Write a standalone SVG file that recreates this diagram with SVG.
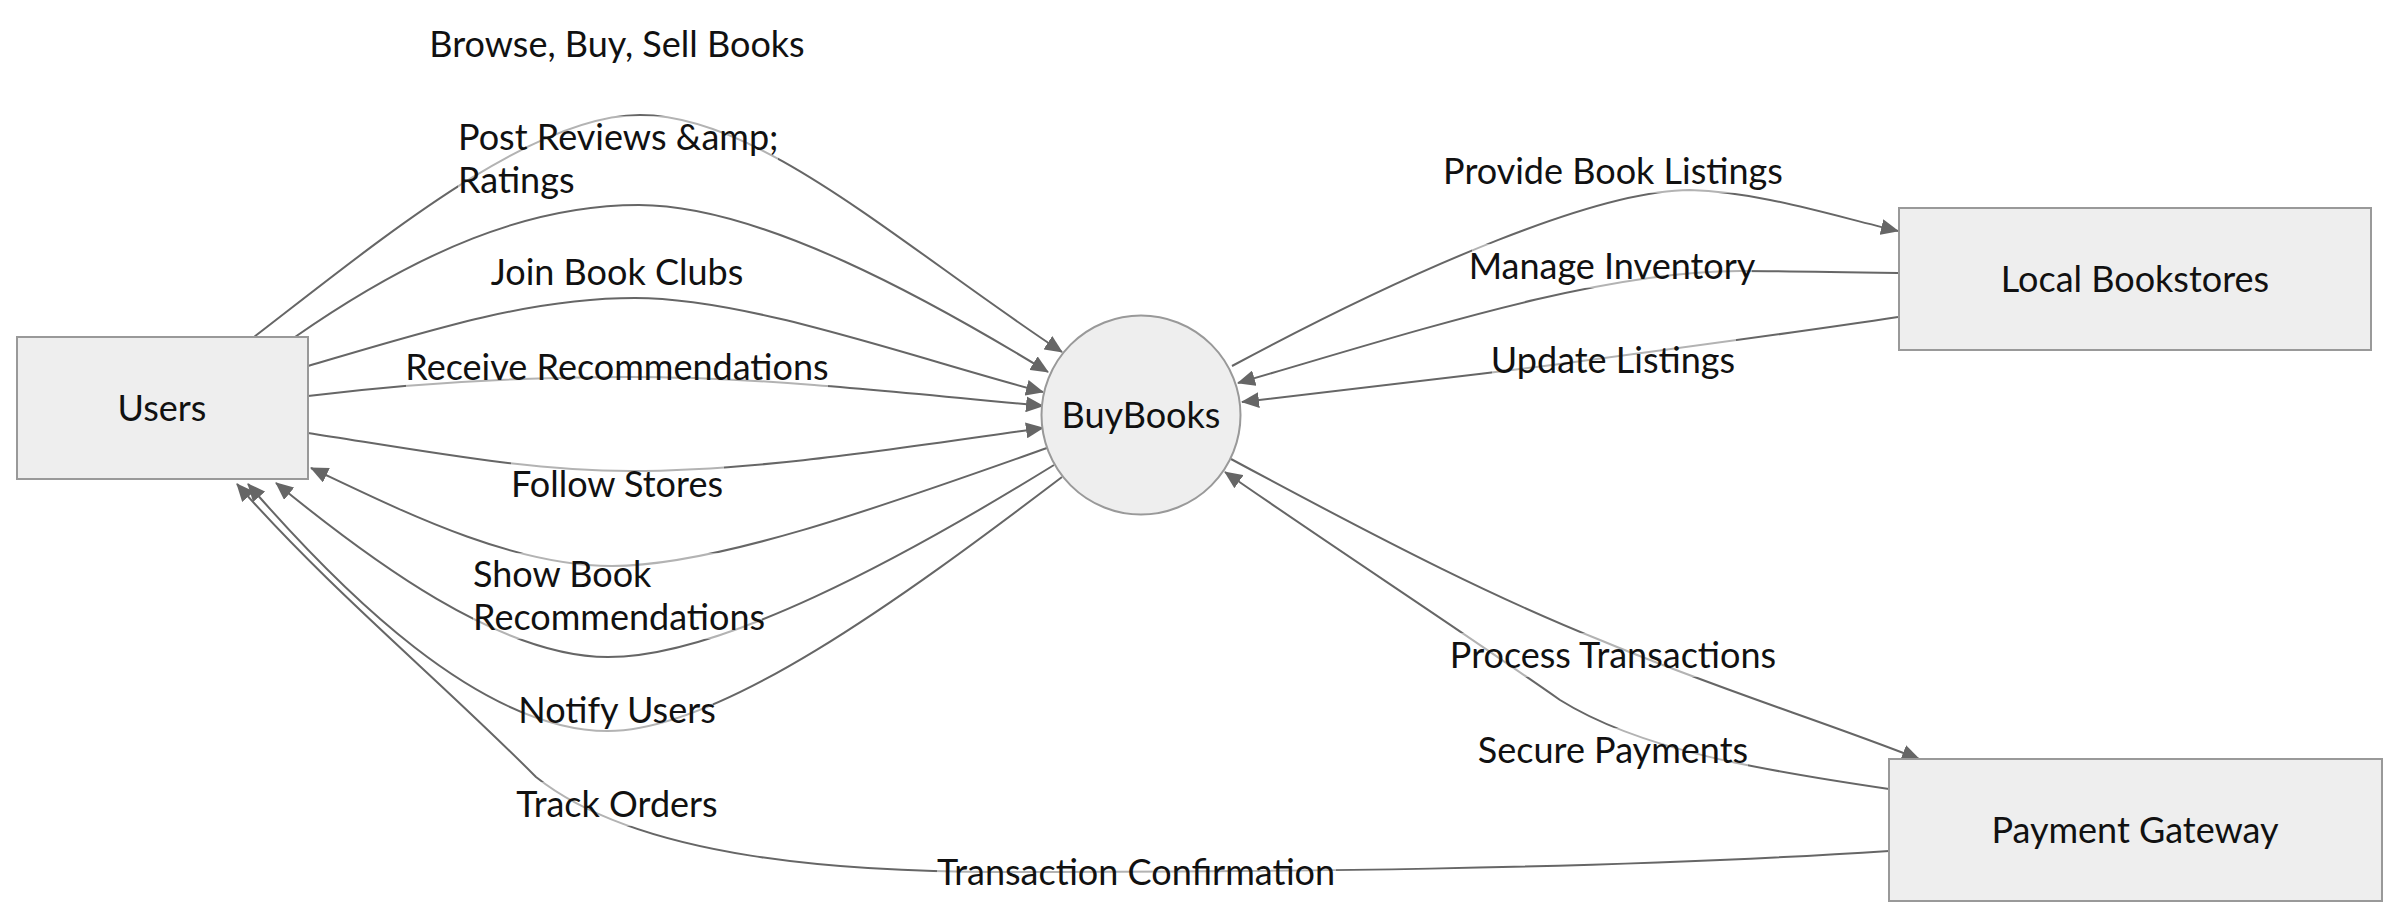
<svg xmlns="http://www.w3.org/2000/svg" width="2400" height="920" viewBox="0 0 2400 920">
<defs>
<marker id="arr" viewBox="0 0 18 16" markerWidth="18" markerHeight="16" refX="17" refY="8" orient="auto" markerUnits="userSpaceOnUse"><path d="M0,0 L18,8 L0,16 z" fill="#666666"/></marker>
</defs>
<style>
.node rect, .node circle {fill:#eeeeee; stroke:#999999; stroke-width:2;}
.edge {fill:none; stroke:#666666; stroke-width:2; marker-end:url(#arr);}
text {font-family: Lato, "Open Sans", sans-serif; font-size:36px; fill:#111111;}
.c {text-anchor:middle;}
.lbl rect {fill:#ffffff; fill-opacity:0.5;}
</style>
<rect width="2400" height="920" fill="#ffffff"/>
<g id="connectors">
<path class="edge" d="M254,337 C380,240 530,115 640,115 C760,115 900,245 1062,352"/>
<path class="edge" d="M295,337 C420,250 530,205 639,205 C760,205 930,300 1048,372"/>
<path class="edge" d="M308,366 C430,330 530,298 635,298 C750,298 920,360 1043,392"/>
<path class="edge" d="M308,396 C420,382 530,377 630,377 C760,377 900,392 1043,406"/>
<path class="edge" d="M308,433 C430,452 530,471 630,471 C760,471 900,448 1043,428"/>
<path class="edge" d="M1047,448 C900,500 720,566 612,566 C510,566 400,510 311,468"/>
<path class="edge" d="M1054,465 C900,560 720,657 608,657 C500,657 370,560 276,483"/>
<path class="edge" d="M1062,477 C900,600 720,731 608,731 C480,731 340,590 248,484"/>
<path class="edge" d="M1889,851 C1600,870 1250,872 1000,872 C850,872 640,860 536,777 C440,680 330,590 237,484"/>
<path class="edge" d="M1232,366 C1420,265 1600,190 1690,190 C1760,192 1830,215 1898,231"/>
<path class="edge" d="M1898,273 C1840,272 1780,271 1740,271 C1600,271 1420,330 1238,383"/>
<path class="edge" d="M1898,317 C1800,332 1650,352 1560,364 C1450,378 1330,392 1242,402"/>
<path class="edge" d="M1231,459 C1400,550 1500,600 1600,640 C1720,690 1820,720 1919,759"/>
<path class="edge" d="M1889,789 C1760,770 1640,750 1560,700 C1460,630 1330,545 1225,472"/>
</g>
<g id="edge-labels">
<g class="lbl"><rect x="431" y="22" width="372" height="44"/><text class="c" x="617" y="57">Browse, Buy, Sell Books</text></g>
<g class="lbl"><rect x="458" y="116" width="320" height="86"/><text x="458" y="150">Post Reviews &amp;amp;</text><text x="458" y="193">Ratings</text></g>
<g class="lbl"><rect x="493" y="250" width="249" height="44"/><text class="c" x="617" y="285">Join Book Clubs</text></g>
<g class="lbl"><rect x="406" y="345" width="422" height="44"/><text class="c" x="617" y="380">Receive Recommendations</text></g>
<g class="lbl"><rect x="511" y="462" width="213" height="44"/><text class="c" x="617" y="497">Follow Stores</text></g>
<g class="lbl"><rect x="473" y="553" width="289" height="86"/><text x="473" y="587">Show Book</text><text x="473" y="630">Recommendations</text></g>
<g class="lbl"><rect x="522" y="688" width="191" height="44"/><text class="c" x="617" y="723">Notify Users</text></g>
<g class="lbl"><rect x="517" y="782" width="199" height="44"/><text class="c" x="617" y="817">Track Orders</text></g>
<g class="lbl"><rect x="937" y="850" width="399" height="44"/><text class="c" x="1136" y="885">Transaction Confirmation</text></g>
<g class="lbl"><rect x="1448" y="149" width="332" height="44"/><text class="c" x="1613" y="184">Provide Book Listings</text></g>
<g class="lbl"><rect x="1472" y="244" width="280" height="44"/><text class="c" x="1612" y="279">Manage Inventory</text></g>
<g class="lbl"><rect x="1492" y="338" width="244" height="44"/><text class="c" x="1613" y="373">Update Listings</text></g>
<g class="lbl"><rect x="1452" y="633" width="324" height="44"/><text class="c" x="1613" y="668">Process Transactions</text></g>
<g class="lbl"><rect x="1480" y="728" width="268" height="44"/><text class="c" x="1613" y="763">Secure Payments</text></g>
</g>
<g id="node-users" class="node"><rect x="17" y="337" width="291" height="142"/><text class="c" x="162" y="421">Users</text></g>
<g id="node-buybooks" class="node"><circle cx="1141" cy="415" r="99.5"/><text class="c" x="1141" y="428">BuyBooks</text></g>
<g id="node-local" class="node"><rect x="1899" y="208" width="472" height="142"/><text class="c" x="2135" y="292">Local Bookstores</text></g>
<g id="node-payment" class="node"><rect x="1889" y="759" width="493" height="142"/><text class="c" x="2135" y="843">Payment Gateway</text></g>
</svg>
